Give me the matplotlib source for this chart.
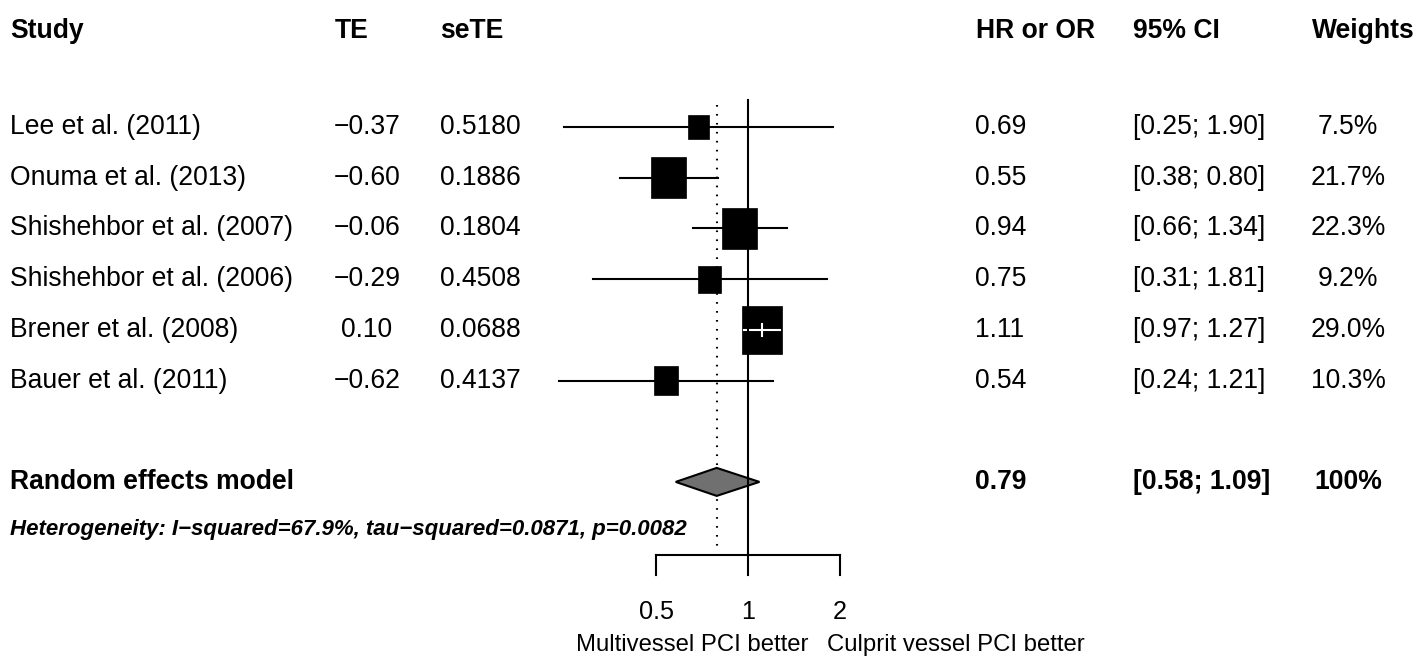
import numpy as np
import matplotlib
matplotlib.use("Agg")
import matplotlib.pyplot as plt
from matplotlib.patches import Rectangle, Polygon

plt.rcParams["font.family"] = ["Liberation Sans", "DejaVu Sans"]

# study level data
studies = ["Lee et al. (2011)", "Onuma et al. (2013)", "Shishehbor et al. (2007)",
           "Shishehbor et al. (2006)", "Brener et al. (2008)", "Bauer et al. (2011)"]
te = [-0.37, -0.60, -0.06, -0.29, 0.10, -0.62]
sete = [0.5180, 0.1886, 0.1804, 0.4508, 0.0688, 0.4137]
hr = [0.69, 0.55, 0.94, 0.75, 1.11, 0.54]
ci_lo = [0.25, 0.38, 0.66, 0.31, 0.97, 0.24]
ci_hi = [1.90, 0.80, 1.34, 1.81, 1.27, 1.21]
weights = [7.5, 21.7, 22.3, 9.2, 29.0, 10.3]

# random effects summary
re_label = "Random effects model"
re_hr = 0.79
re_lo = 0.58
re_hi = 1.09
re_weight = 100
het_text = "Heterogeneity: I\u2212squared=67.9%, tau\u2212squared=0.0871, p=0.0082"

ticks = [0.5, 1, 2]
tick_labels = ["0.5", "1", "2"]
label_left = "Multivessel PCI better"
label_right = "Culprit vessel PCI better"

W, H = 1427, 665
ROW0, ROWH = 127, 50.7     # pixel y of first row, row spacing
X_REF, PX2 = 748, 92       # pixel x of HR=1, pixels per doubling
FS = 19.1
FS_AX = 17.2
LW = 1.5


def row_of(py):
    return (py - ROW0) / ROWH


def fmt_num(v, nd=2):
    s = f"{abs(v):.{nd}f}"
    return ("\u2212" + s) if v < 0 else s


fig = plt.figure(figsize=(W / 100, H / 100), dpi=100)
ylim = (row_of(H), row_of(0))

# text table axes in pixel x units
axt = fig.add_axes([0, 0, 1, 1])
axt.set_xlim(0, W)
axt.set_ylim(*ylim)
axt.axis("off")

# forest axes on a log2 scale
axf = fig.add_axes([0, 0, 1, 1])
axf.patch.set_alpha(0)
axf.set_xscale("log", base=2)
axf.set_xlim(2 ** ((0 - X_REF) / PX2), 2 ** ((W - X_REF) / PX2))
axf.set_ylim(*ylim)
axf.axis("off")

# headers
yh = row_of(31)
for x, txt in [(10, "Study"), (335, "TE"), (440, "seTE"), (976, "HR or OR"),
               (1133, "95% CI"), (1312, "Weights")]:
    axt.text(x, yh, txt, fontsize=FS, fontweight="bold", ha="left", va="center")

# study rows
rows = np.arange(len(studies))
for i in rows:
    axt.text(10, i, studies[i], fontsize=FS, va="center")
    axt.text(367, i, fmt_num(te[i]), fontsize=FS, ha="center", va="center")
    axt.text(440, i, f"{sete[i]:.4f}", fontsize=FS, va="center")
    axt.text(975, i, f"{hr[i]:.2f}", fontsize=FS, va="center")
    axt.text(1133, i, f"[{ci_lo[i]:.2f}; {ci_hi[i]:.2f}]", fontsize=FS, va="center")
    axt.text(1348, i, f"{weights[i]:.1f}%", fontsize=FS, ha="center", va="center")

    # square with area proportional to weight
    wpx = 7.5 * np.sqrt(weights[i])
    half = wpx / 2 / PX2
    x0 = hr[i] * 2 ** -half
    x1 = hr[i] * 2 ** half
    hgt = wpx * 1.18 / ROWH
    axf.add_patch(Rectangle((x0, i - hgt / 2), x1 - x0, hgt, facecolor="black",
                            edgecolor="black", lw=0.5, zorder=4))
    if ci_lo[i] >= x0 and ci_hi[i] <= x1:
        axf.plot([ci_lo[i], ci_hi[i]], [i, i], color="white", lw=LW, zorder=5)
        axf.plot([hr[i], hr[i]], [i - 0.12, i + 0.12], color="white", lw=LW, zorder=5)
    else:
        axf.plot([ci_lo[i], ci_hi[i]], [i, i], color="black", lw=LW, zorder=3)

# summary row
yr = 7
axt.text(10, yr, re_label, fontsize=FS, fontweight="bold", va="center")
axt.text(975, yr, f"{re_hr:.2f}", fontsize=FS, fontweight="bold", va="center")
axt.text(1133, yr, f"[{re_lo:.2f}; {re_hi:.2f}]", fontsize=FS, fontweight="bold", va="center")
axt.text(1348, yr, f"{re_weight}%", fontsize=FS, fontweight="bold", ha="center", va="center")
dh = 14 / ROWH
axf.add_patch(Polygon([(re_lo, yr), (re_hr, yr - dh), (re_hi, yr), (re_hr, yr + dh)],
                      closed=True, facecolor="#707070", edgecolor="black", lw=LW, zorder=4))

axt.text(10, row_of(529), het_text, fontsize=16.0, fontweight="bold", style="italic",
         va="center")

# reference lines
axf.plot([1, 1], [row_of(100), row_of(555)], color="black", lw=LW, zorder=6)
axf.plot([re_hr, re_hr], [row_of(105), row_of(548)], color="black", lw=LW,
         linestyle=(0, (0.8, 3.5)), zorder=2)

# x axis
ya = row_of(555)
axf.plot([ticks[0], ticks[-1]], [ya, ya], color="black", lw=LW)
for t, lab in zip(ticks, tick_labels):
    axf.plot([t, t], [ya, row_of(575)], color="black", lw=LW)
    axf.text(t, row_of(612), lab, fontsize=FS_AX + 1, ha="center", va="center")

axt.text(808, row_of(645), label_left, fontsize=FS_AX, ha="right", va="center")
axt.text(827, row_of(645), label_right, fontsize=FS_AX, ha="left", va="center")

fig.savefig("out.png", dpi=100)
